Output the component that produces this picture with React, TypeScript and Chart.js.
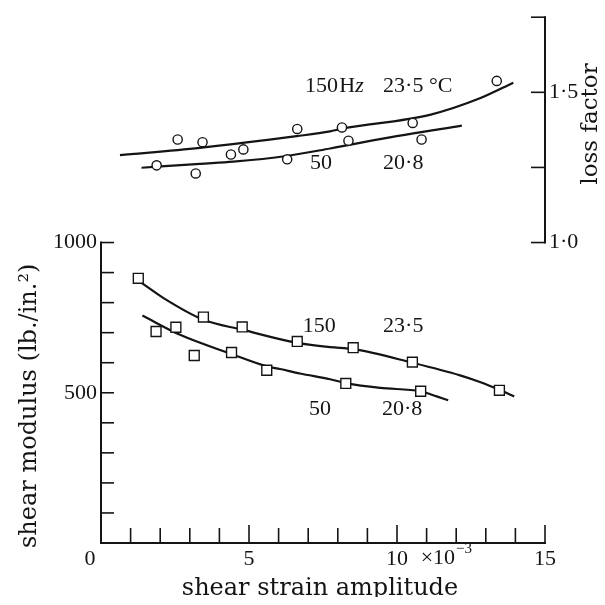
import React, { useEffect, useRef } from 'react';
import { Chart, registerables } from 'chart.js';

Chart.register(...registerables);

// ---- data ----
// shear modulus (lb./in.^2) vs shear strain amplitude (x 10^-3)
const modX150 = [1.26, 3.46, 4.77, 6.63, 8.52, 10.52, 13.46];
const mod150 = [881, 752, 719, 671, 650, 602, 508];
const modX50 = [1.86, 2.53, 3.15, 4.41, 5.6, 8.27, 10.8];
const mod50 = [704, 718, 624, 634, 575, 531, 505];

// hand-drawn fitted curves (modulus)
const modCurveX150 = [1.37, 2.1, 3.46, 4.77, 6.63, 7.74, 8.55, 10.52, 12.13, 12.8, 13.46, 13.96];
const modCurve150 = [866, 816, 743, 710, 666, 652, 645, 600, 558, 536, 510, 488];
const modCurveX50 = [1.4, 2.67, 4.41, 5.6, 6.05, 6.72, 7.74, 8.28, 9.43, 10.8, 11.34, 11.73];
const modCurve50 = [757, 693, 629, 588, 579, 564, 545, 532, 516, 505, 488, 475];

// loss factor
const lossX150 = [3.43, 4.81, 6.63, 8.14, 10.53, 13.37];
const loss150 = [1.334, 1.31, 1.378, 1.383, 1.398, 1.538];
const lossX50 = [1.88, 2.59, 3.2, 4.39, 6.29, 8.36, 10.83];
const loss50 = [1.257, 1.343, 1.23, 1.293, 1.277, 1.339, 1.343];

const lossCurveX150 = [0.64, 3.34, 6.61, 7.74, 8.14, 11.11, 12.8, 13.93];
const lossCurve150 = [1.291, 1.315, 1.354, 1.37, 1.379, 1.425, 1.48, 1.532];
const lossCurveX50 = [1.37, 3.34, 4.47, 6.27, 7.74, 9.99, 12.19];
const lossCurve50 = [1.249, 1.262, 1.269, 1.288, 1.313, 1.354, 1.389];

// axis labels
const xLabelValues = [0, 5, 10, 15];
const modLabelValues = [500, 1000];
const lossLabelValues = [1.0, 1.5];
const lossLabelText = ['1·0', '1·5'];

const xTitle = 'shear strain amplitude';
const modTitle = 'shear modulus (lb./in.²)';
const lossTitle = 'loss factor';

// curve annotations: [text, x, y, axis]
const notes: [string, number, number, string][] = [
  ['150', 6.89, 1.521, 'yR'],
  ['Hz', 8.05, 1.521, 'yR'],
  ['23·5 °C', 9.53, 1.521, 'yR'],
  ['50', 7.06, 1.263, 'yR'],
  ['20·8', 9.53, 1.263, 'yR'],
  ['150', 6.82, 722, 'y'],
  ['23·5', 9.53, 722, 'y'],
  ['50', 7.03, 444, 'y'],
  ['20·8', 9.49, 444, 'y'],
];

const INK = '#141414';
const NUM_FONT = '22px "Liberation Serif", serif';
const TITLE_FONT = '24px "DejaVu Serif", serif';

const pts = (xs: number[], ys: number[]) => xs.map((x, i) => ({ x, y: ys[i] }));

const paperPlugin = {
  id: 'paperAxes',
  afterDraw(chart: any) {
    const { ctx, scales } = chart;
    const x = scales.x;
    const y = scales.y;
    const yr = scales.yR;
    const seg = (a: number, b: number, c: number, d: number) => {
      ctx.beginPath();
      ctx.moveTo(a, b);
      ctx.lineTo(c, d);
      ctx.stroke();
    };
    ctx.save();
    ctx.strokeStyle = INK;
    ctx.lineCap = 'square';
    ctx.lineWidth = 2;
    const x0 = x.getPixelForValue(0);
    const x15 = x.getPixelForValue(15);
    const y0 = y.getPixelForValue(0);
    const y1000 = y.getPixelForValue(1000);
    const r1 = yr.getPixelForValue(1.0);
    const rTop = yr.getPixelForValue(1.75);
    seg(x0, y0, x0, y1000);
    seg(x0, y0, x15, y0);
    seg(x15, r1, x15, rTop);

    ctx.lineWidth = 1.6;
    ctx.lineCap = 'butt';
    y.ticks.forEach((t: any) => {
      if (t.value > 0 && t.value <= 1000) {
        const p = y.getPixelForValue(t.value);
        seg(x0, p, x0 + 13, p);
      }
    });
    x.ticks.forEach((t: any) => {
      if (t.value > 0) {
        const p = x.getPixelForValue(t.value);
        const len = t.value % 5 === 0 ? 18 : 15;
        seg(p, y0, p, y0 - len);
      }
    });
    yr.ticks.forEach((t: any) => {
      if (t.value >= 1 && t.value <= 1.75) {
        const p = yr.getPixelForValue(t.value);
        seg(x15, p, x15 - 14, p);
      }
    });

    ctx.fillStyle = INK;
    // x10^-3
    ctx.font = NUM_FONT;
    ctx.textAlign = 'left';
    ctx.textBaseline = 'middle';
    const xm = x.getPixelForValue(10.8);
    ctx.fillText('×10', xm, 558);
    const w = ctx.measureText('×10').width;
    ctx.font = '15px "Liberation Serif", serif';
    ctx.fillText('−3', xm + w + 1, 549);

    // annotations
    ctx.font = NUM_FONT;
    notes.forEach(([txt, nx, ny, ax]) => {
      const px = x.getPixelForValue(nx);
      const py = scales[ax].getPixelForValue(ny);
      if (txt === 'Hz') {
        ctx.fillText('H', px, py);
        const hw = ctx.measureText('H').width;
        ctx.font = 'italic 22px "Liberation Serif", serif';
        ctx.fillText('z', px + hw, py);
        ctx.font = NUM_FONT;
      } else {
        ctx.fillText(txt, px, py);
      }
    });

    // titles
    ctx.font = TITLE_FONT;
    ctx.textAlign = 'center';
    ctx.textBaseline = 'middle';
    ctx.fillText(xTitle, (x0 + x15) / 2 - 3, 589);

    ctx.save();
    ctx.translate(30, (y0 + y1000) / 2 + 13);
    ctx.rotate(-Math.PI / 2);
    ctx.fillText(modTitle, 0, 0);
    ctx.restore();

    ctx.save();
    ctx.font = '23px "DejaVu Serif", serif';
    ctx.translate(591, 124);
    ctx.rotate(-Math.PI / 2);
    ctx.fillText(lossTitle, 0, 0);
    ctx.restore();

    ctx.restore();
  },
};

export default function App() {
  const ref = useRef<HTMLCanvasElement>(null);
  useEffect(() => {
    if (!ref.current) return;
    const squares = {
      type: 'scatter' as const,
      showLine: false,
      pointStyle: 'rect',
      pointRadius: 7,
      pointBackgroundColor: '#ffffff',
      pointBorderColor: INK,
      pointBorderWidth: 1.4,
      yAxisID: 'y',
      order: 1,
    };
    const circles = {
      type: 'scatter' as const,
      showLine: false,
      pointStyle: 'circle',
      pointRadius: 4.6,
      pointBackgroundColor: '#ffffff',
      pointBorderColor: INK,
      pointBorderWidth: 1.4,
      yAxisID: 'yR',
      order: 1,
    };
    const curve = {
      type: 'line' as const,
      borderColor: INK,
      borderWidth: 2.2,
      pointRadius: 0,
      fill: false,
      cubicInterpolationMode: 'monotone' as const,
      order: 2,
    };
    const chart = new Chart(ref.current, {
      type: 'scatter',
      data: {
        datasets: [
          { ...curve, label: 'modulus 150 Hz fit', data: pts(modCurveX150, modCurve150), yAxisID: 'y' },
          { ...curve, label: 'modulus 50 Hz fit', data: pts(modCurveX50, modCurve50), yAxisID: 'y' },
          { ...curve, label: 'loss 150 Hz fit', data: pts(lossCurveX150, lossCurve150), yAxisID: 'yR' },
          { ...curve, label: 'loss 50 Hz fit', data: pts(lossCurveX50, lossCurve50), yAxisID: 'yR' },
          { ...squares, label: 'modulus 150 Hz', data: pts(modX150, mod150) },
          { ...squares, label: 'modulus 50 Hz', data: pts(modX50, mod50) },
          { ...circles, label: 'loss 150 Hz', data: pts(lossX150, loss150) },
          { ...circles, label: 'loss 50 Hz', data: pts(lossX50, loss50) },
        ] as any,
      },
      options: {
        animation: false,
        responsive: false,
        devicePixelRatio: 1,
        layout: { padding: { top: 15, left: 0, right: 0, bottom: 0 } },
        plugins: { legend: { display: false }, tooltip: { enabled: false } },
        scales: {
          x: {
            type: 'linear',
            min: 0,
            max: 15,
            grid: { display: false, drawTicks: false },
            border: { display: false },
            ticks: {
              stepSize: 1,
              autoSkip: false,
              maxRotation: 0,
              padding: 3,
              color: INK,
              font: { family: '"Liberation Serif", serif', size: 22 },
              callback: (v: any) =>
                xLabelValues.includes(Number(v)) ? (Number(v) === 0 ? '0\u2003' : String(v)) : '',
            },
            afterFit: (s: any) => {
              s.height = 62;
            },
          },
          y: {
            type: 'linear',
            position: 'left',
            min: 0,
            max: 1750,
            grid: { display: false, drawTicks: false },
            border: { display: false },
            ticks: {
              stepSize: 100,
              autoSkip: false,
              padding: 4,
              color: INK,
              font: { family: '"Liberation Serif", serif', size: 22 },
              callback: (v: any) => (modLabelValues.includes(Number(v)) ? String(v) : ''),
            },
            afterFit: (s: any) => {
              s.width = 101;
            },
          },
          yR: {
            type: 'linear',
            position: 'right',
            min: 0,
            max: 1.75,
            grid: { display: false, drawTicks: false },
            border: { display: false },
            ticks: {
              stepSize: 0.25,
              autoSkip: false,
              padding: 4,
              color: INK,
              font: { family: '"Liberation Serif", serif', size: 22 },
              callback: (v: any) => {
                const i = lossLabelValues.findIndex((l) => Math.abs(l - Number(v)) < 1e-6);
                return i >= 0 ? lossLabelText[i] : '';
              },
            },
            afterFit: (s: any) => {
              s.width = 60;
            },
          },
        },
      },
      plugins: [paperPlugin],
    });
    return () => chart.destroy();
  }, []);
  return (
    <div style={{ width: 605, height: 605, margin: -8, background: '#fff' }}>
      <canvas ref={ref} width={605} height={605} style={{ display: 'block' }} />
    </div>
  );
}
